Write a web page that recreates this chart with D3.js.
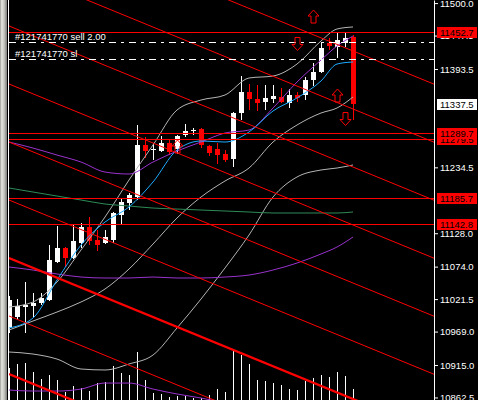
<!DOCTYPE html>
<html><head><meta charset="utf-8">
<script src="https://cdn.jsdelivr.net/npm/d3@7"></script>
<style>html,body{margin:0;padding:0;background:#000;overflow:hidden}</style>
</head><body><svg id="c" width="478" height="400"></svg>
<script>
// ---- data ----
const opens  = [10974.8,10992.5,11008.7,11010.3,11015.2,11020.0,11081.5,11104.1,11087.9,11112.2,11138.0,11117.0,11112.2,11117.0,11157.4,11176.8,11186.5,11270.6,11262.5,11260.9,11273.8,11264.1,11286.8,11293.2,11296.5,11269.0,11264.1,11256.0,11248.0,11322.3,11356.3,11345.0,11340.1,11345.0,11348.2,11338.5,11351.4,11351.4,11375.7,11388.6,11435.5,11429.0,11435.5,11445.2];
const highs  = [11026.5,11021.6,11049.1,11031.4,11031.4,11108.9,11139.7,11105.7,11141.3,11144.5,11154.2,11133.2,11133.2,11162.3,11184.9,11193.0,11302.9,11283.5,11273.8,11285.1,11278.7,11286.8,11304.5,11298.1,11298.1,11270.6,11273.8,11262.5,11323.9,11382.1,11369.2,11367.6,11367.6,11367.6,11362.7,11361.1,11356.3,11380.5,11403.2,11435.5,11443.6,11451.7,11453.3,11448.4];
const lows   = [10966.7,10987.7,10966.7,10992.5,11011.9,11018.4,11079.8,11073.4,11086.3,11104.1,11108.9,11099.2,11110.5,11112.2,11141.3,11165.5,11181.7,11249.6,11246.3,11259.3,11254.4,11256.0,11283.5,11286.8,11265.7,11252.8,11239.9,11243.1,11235.0,11311.0,11327.2,11325.6,11327.2,11338.5,11338.5,11330.4,11340.1,11343.3,11366.0,11387.0,11424.2,11411.2,11429.0,11311.0];
const closes = [11020.0,11010.3,11011.9,11015.2,11023.3,11084.7,11104.1,11087.9,11115.4,11138.0,11115.4,11108.9,11121.9,11160.7,11178.4,11189.8,11270.6,11260.9,11264.1,11273.8,11259.3,11285.1,11293.2,11294.8,11270.6,11257.7,11254.4,11246.3,11322.3,11356.3,11345.0,11338.5,11346.6,11349.8,11340.1,11351.4,11346.6,11375.7,11388.6,11427.4,11430.6,11440.3,11443.6,11337.5];
const volumes = [1920,2160,2220,1680,1260,1500,1200,480,840,720,540,1020,1080,2040,1620,1500,2880,1200,420,360,180,240,240,120,120,300,660,480,3000,2700,2160,1200,1140,1020,900,660,600,1140,1320,1500,1380,1680,1440,660];

// indicator samples (bar index -> value)
const sampleIdx   = [0,3,6,9,12,15,18,21,24,27,30,33,36,39,41,43];
const bbUpper     = [11008.7,11016.8,11049.1,11100.9,11154.2,11214.0,11270.6,11327.2,11343.3,11351.4,11378.9,11382.1,11401.5,11438.7,11458.1,11461.4];
const bbMiddle    = [10971.5,10986.1,11000.6,11016.8,11037.8,11070.1,11110.5,11152.6,11186.5,11212.4,11233.4,11275.4,11302.9,11322.3,11330.4,11348.2];
const bbLower     = [10936.0,10932.7,10924.6,10908.5,10906.9,10916.6,10931.1,10974.8,11021.6,11071.8,11125.1,11186.5,11218.9,11230.2,11233.4,11238.3];
const maBlue      = [10974.8,10990.9,11052.4,11108.9,11146.1,11170.4,11210.8,11262.5,11277.1,11275.4,11291.6,11325.6,11346.6,11374.1,11401.5,11404.8];
const maPurpleA   = [11275.4,11265.7,11254.4,11243.1,11226.9,11223.7,11243.1,11260.9,11275.4,11290.0,11294.8,11330.4,11372.4,11408.0,11430.6,11446.8];
const maPurpleB   = [11073.4,11068.5,11062.1,11057.2,11055.6,11055.6,11057.2,11055.6,11055.6,11057.2,11060.4,11068.5,11079.8,11094.4,11105.7,11121.9];
const maPurpleC   = [10874.5,10872.9,10872.9,10876.1,10885.8,10885.8,10876.1,10868.1,10861.6,10853.5,null,null,null,null,null,null];
const maGreen     = [11201.1,11194.6,11188.1,11181.7,11175.2,11172.0,11168.7,11167.1,11165.5,11163.9,11162.3,11160.7,11160.7,11160.7,11160.7,11162.3];

// channel lines: price at bar 0 and at bar 43
const channelStart = [11650.5,11556.7,11463.0,11369.2,11275.4,11181.7,11087.9,10994.2,10900.4];
const channelEnd   = [11422.6,11328.8,11235.0,11141.3,11047.5,10953.7,10860.0,10766.2,10672.5];

const levels      = [11452.7,11289.7,11279.5,11185.7,11142.8];
const orderLevels = [11437.6,11409.2];
const orderLabels = ["#121741770 sell 2.00","#121741770 sl"];
const bidPrice    = 11337.5;
const yTicks      = [11500.0,11447.5,11393.5,11234.5,11128.0,11074.0,11021.5,10969.0,10915.0,10862.5];

const arrowIdx   = [38,36,41,42,21];
const arrowPrice = [11478.3,11433.9,11350.6,11312.6,11268.2];
const arrowDir   = ["up","down","up","down","up"];

// ---- drawing ----
const W = 478, H = 400, plotL = 9, plotR = 434;
const svg = d3.select('#c');
const x  = d3.scaleLinear().domain([0, 53.125]).range([plotL, plotR]);
const y  = d3.scaleLinear().domain([10858.4, 11505.0]).range([H, 0]);
const vy = d3.scaleLinear().domain([0, 3000]).range([H, H - 50]);
const FONT = "'Liberation Sans', Arial, sans-serif";

svg.append('rect').attr('width', W).attr('height', H).attr('fill', '#000');
const defs = svg.append('defs');
defs.append('clipPath').attr('id', 'plot').append('rect')
  .attr('x', plotL).attr('y', 0).attr('width', plotR - plotL).attr('height', H);
const grad = defs.append('linearGradient').attr('id', 'frame');
[['0%','#9a9a94'],['25%','#e6e6e0'],['60%','#c4c4be'],['100%','#7c7c78']]
  .forEach(([o,c]) => grad.append('stop').attr('offset', o).attr('stop-color', c));
svg.append('rect').attr('x', 0).attr('y', 0).attr('width', 7).attr('height', H).attr('fill', 'url(#frame)');
svg.append('line').attr('x1', 8.5).attr('x2', 8.5).attr('y1', 0).attr('y2', H).attr('stroke', '#fff');

const plot = svg.append('g').attr('clip-path', 'url(#plot)');
const bars = opens.map((o, i) => ({ i, o, h: highs[i], l: lows[i], c: closes[i], v: volumes[i] }));

// volumes
plot.append('g').attr('shape-rendering', 'crispEdges').selectAll('rect').data(bars).join('rect')
  .attr('x', d => Math.round(x(d.i))).attr('width', 1)
  .attr('y', d => Math.round(vy(d.v))).attr('height', d => H - Math.round(vy(d.v)))
  .attr('fill', '#fff');

// candles
const cg = plot.append('g').attr('shape-rendering', 'crispEdges');
cg.selectAll('rect.wick').data(bars).join('rect').attr('class', 'wick')
  .attr('x', d => Math.round(x(d.i))).attr('width', 1)
  .attr('y', d => Math.round(y(d.h))).attr('height', d => Math.max(1, Math.round(y(d.l)) - Math.round(y(d.h))))
  .attr('fill', d => d.c >= d.o ? '#fff' : '#f00');
cg.selectAll('rect.body').data(bars).join('rect').attr('class', 'body')
  .attr('x', d => Math.round(x(d.i)) - 2).attr('width', 5)
  .attr('y', d => Math.round(y(Math.max(d.o, d.c))))
  .attr('height', d => Math.max(1, Math.round(y(Math.min(d.o, d.c))) - Math.round(y(Math.max(d.o, d.c)))))
  .attr('fill', d => d.c >= d.o ? '#fff' : '#f00');

// indicators
const lineGen = d3.line().defined(d => d.v != null).x(d => x(d.i)).y(d => y(d.v)).curve(d3.curveMonotoneX);
const series = [
  [bbUpper, '#b4b4b4'], [bbMiddle, '#b4b4b4'], [bbLower, '#b4b4b4'],
  [maGreen, '#2e8b57'], [maPurpleB, '#9932cc'], [maPurpleC, '#9932cc'],
  [maPurpleA, '#9932cc'], [maBlue, '#1eaaff']
];
series.forEach(([vals, col]) => {
  plot.append('path').datum(sampleIdx.map((i, k) => ({ i, v: vals[k] })))
    .attr('d', lineGen).attr('fill', 'none').attr('stroke', col).attr('stroke-width', 1);
});

// channel lines
channelStart.forEach((p0, k) => {
  const x0 = x(0), y0 = y(p0), x1 = x(43), y1 = y(channelEnd[k]);
  const slope = (y1 - y0) / (x1 - x0);
  const thick = (k === 6 || k === 8);
  plot.append('line')
    .attr('x1', plotL).attr('y1', y0 + slope * (plotL - x0))
    .attr('x2', plotR).attr('y2', y0 + slope * (plotR - x0))
    .attr('stroke', '#f00').attr('stroke-width', thick ? 2.3 : 1);
});

// horizontal levels
levels.forEach(p => {
  const yy = Math.round(y(p)) + 0.5;
  plot.append('line').attr('x1', plotL).attr('x2', plotR).attr('y1', yy).attr('y2', yy)
    .attr('stroke', '#f00').attr('stroke-width', 1);
});

// order lines
orderLevels.forEach((p, k) => {
  const yy = Math.round(y(p)) + 0.5;
  plot.append('line').attr('x1', plotL).attr('x2', plotR).attr('y1', yy).attr('y2', yy)
    .attr('stroke', '#fff').attr('stroke-width', 1).attr('stroke-dasharray', '7,5,3,5');
  plot.append('text').attr('x', 15).attr('y', yy - 2.5).text(orderLabels[k])
    .attr('fill', '#fff').attr('font-size', '9.5px').attr('font-family', FONT);
});

// arrows
arrowIdx.forEach((bi, k) => {
  const cx = Math.round(x(bi)) + 0.5, cy = y(arrowPrice[k]);
  const hw = 5.5, sw = 2.5, hh = 6.5;
  let pts;
  const t = cy - hh, b = cy + hh;
  if (arrowDir[k] === 'up') {
    pts = [[cx, t], [cx + hw, t + 6], [cx + sw, t + 6], [cx + sw, b], [cx - sw, b], [cx - sw, t + 6], [cx - hw, t + 6]];
  } else {
    pts = [[cx, b], [cx + hw, b - 6], [cx + sw, b - 6], [cx + sw, t], [cx - sw, t], [cx - sw, b - 6], [cx - hw, b - 6]];
  }
  plot.append('polygon').attr('points', pts.map(p => p.join(',')).join(' '))
    .attr('fill', 'none').attr('stroke', '#f00').attr('stroke-width', 1);
});

// right axis
const axis = d3.axisRight(y).tickValues(yTicks).tickSize(4).tickSizeOuter(0).tickPadding(2)
  .tickFormat(d3.format('.1f'));
const ag = svg.append('g').attr('transform', `translate(${plotR},0)`).call(axis);
ag.select('.domain').attr('stroke', '#fff');
ag.selectAll('.tick line').attr('stroke', '#fff');
ag.selectAll('.tick text').attr('fill', '#fff').attr('font-size', '9.5px').attr('font-family', FONT);

// price markers
const marker = (p, bg, fg) => {
  const yy = y(p);
  svg.append('rect').attr('x', 437).attr('y', Math.round(yy) - 5).attr('width', 40).attr('height', 11).attr('fill', bg);
  svg.append('text').attr('x', 440).attr('y', Math.round(yy) + 4).text(d3.format('.1f')(p))
    .attr('fill', fg).attr('font-size', '9.5px').attr('font-family', FONT);
};
levels.slice().reverse().forEach(p => marker(p, '#f00', '#000'));
marker(bidPrice, '#fff', '#000');
</script></body></html>
